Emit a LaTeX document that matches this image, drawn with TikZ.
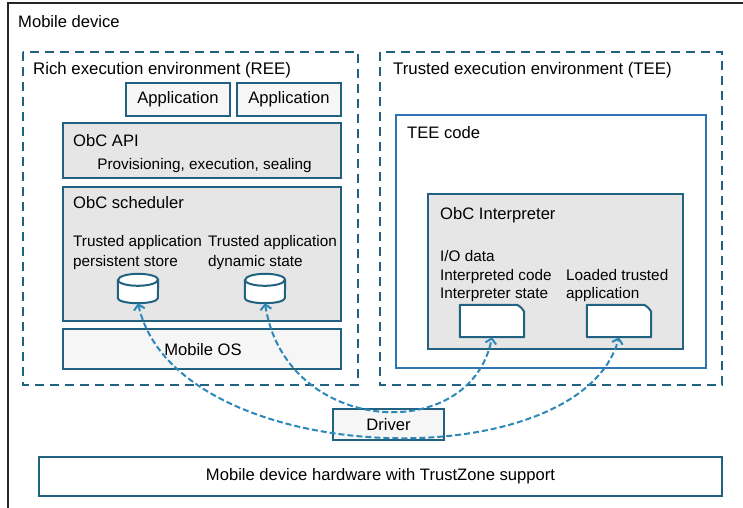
\documentclass[tikz,border=0pt]{standalone}
\usepackage{fontspec}
\setmainfont{Liberation Sans}
\usetikzlibrary{arrows.meta}
\definecolor{bordc}{RGB}{33,98,128}
\definecolor{teeb}{RGB}{46,117,182}
\definecolor{connc}{RGB}{45,135,185}
\definecolor{grayfill}{RGB}{230,230,230}
\definecolor{lightfill}{RGB}{246,246,246}
\begin{document}
\begin{tikzpicture}[x=1pt,y=-1pt,
  box/.style={draw=bordc, line width=2pt, inner sep=0pt},
  envbox/.style={draw=bordc, line width=2pt, dash pattern=on 9pt off 6pt},
  big/.style={font=\fontsize{16.6}{19}\selectfont, inner sep=0pt},
  envlab/.style={font=\fontsize{16.8}{19}\selectfont, inner sep=0pt},
  small/.style={font=\fontsize{15.3}{18.5}\selectfont, inner sep=0pt},
  hold/.style={inner sep=0pt, draw=none},
  shapeline/.style={draw=bordc, line width=2pt, fill=white, line join=round},
  conn/.style={draw=connc, line width=2pt, dash pattern=on 6pt off 3pt,
    {Straight Barb[length=5pt,width=11pt,line width=2pt]}-{Straight Barb[length=5pt,width=11pt,line width=2pt]}}
]
\useasboundingbox (0,0) rectangle (743,507);
\clip (0,0) rectangle (743,507);
\fill[white] (0,0) rectangle (743,507);
% outer frame
\draw[line width=2.2pt, draw=black!85] (8,3) rectangle (770,540);
\node[big, anchor=base west] (lmd) at (18,27) {Mobile device};

% environments
\draw[envbox] (23,52) rectangle (358,385);
\draw[envbox] (380,52) rectangle (722,385);
\node[envlab, anchor=base west] (lree) at (33,74) {Rich execution environment (REE)};
\node[envlab, anchor=base west] (ltee) at (393,74) {Trusted execution environment (TEE)};

% REE content
\node[box, fill=lightfill, minimum width=104, minimum height=33, big] (app1) at (178,99.5) {Application};
\node[box, fill=lightfill, minimum width=104, minimum height=33, big] (app2) at (289,99.5) {Application};
\node[box, fill=grayfill, minimum width=278, minimum height=55] (api) at (202,150.5) {};
\node[big, anchor=base west] (lapi) at (73,146) {ObC API};
\node[small, anchor=base] (lprov) at (204.5,169) {Provisioning, execution, sealing};
\node[box, fill=grayfill, minimum width=278, minimum height=134] (sched) at (202,254) {};
\node[big, anchor=base west] (lsched) at (73,208) {ObC scheduler};
\node[small, anchor=base west] (t1a) at (73,246) {Trusted application};
\node[small, anchor=base west] (t1b) at (73,266) {persistent store};
\node[small, anchor=base west] (t2a) at (208,246) {Trusted application};
\node[small, anchor=base west] (t2b) at (208,266) {dynamic state};
\node[box, fill=lightfill, minimum width=278, minimum height=40] (os) at (202,349) {};
\node[big] (los) at (203,350) {Mobile OS};

% cylinders
\node[hold, minimum width=40, minimum height=29] (cyl1) at (138,288.5) {};
\node[hold, minimum width=40, minimum height=29] (cyl2) at (265,288.5) {};
\foreach \c in {cyl1,cyl2}{
  \path[shapeline] ([yshift=-6pt]\c.north west) -- ([yshift=5pt]\c.south west)
    arc[start angle=180, end angle=360, x radius=20pt, y radius=5pt]
    -- ([yshift=-6pt]\c.north east)
    arc[start angle=0, end angle=180, x radius=20pt, y radius=6pt] -- cycle;
  \draw[draw=bordc, line width=2pt] ([yshift=-6pt]\c.north west)
    arc[start angle=180, end angle=360, x radius=20pt, y radius=6pt];
}

% TEE content
\node[draw=teeb, line width=2pt, fill=white, minimum width=310, minimum height=253] (teecode) at (551,241.5) {};
\node[big, anchor=base west] (lteecode) at (407,138) {TEE code};
\node[box, fill=grayfill, minimum width=255, minimum height=155] (interp) at (555.5,271.5) {};
\node[big, anchor=base west] (linterp) at (440,219) {ObC Interpreter};
\node[small, anchor=base west] (io1) at (440,261) {I/O data};
\node[small, anchor=base west] (io2) at (440,280) {Interpreted code};
\node[small, anchor=base west] (io3) at (440,298) {Interpreter state};
\node[small, anchor=base west] (ld1) at (566,280) {Loaded trusted};
\node[small, anchor=base west] (ld2) at (566,298) {application};

% documents
\node[hold, minimum width=64, minimum height=32] (doc1) at (492,321) {};
\node[hold, minimum width=64, minimum height=32] (doc2) at (619,321) {};
\foreach \d in {doc1,doc2}{
  \path[shapeline] (\d.south west) -- (\d.north west) -- ([xshift=-7pt]\d.north east)
    to[bend left=15] ([yshift=-7pt]\d.north east) -- (\d.south east) -- cycle;
}

% driver and hardware
\node[box, fill=lightfill, minimum width=111, minimum height=31, big] (driver) at (388.5,424.5) {Driver};
\node[box, fill=white, minimum width=683, minimum height=39, big] (hw) at (380.5,476.5) {Mobile device hardware with TrustZone support};

% connectors
\draw[conn] (cyl1.south) .. controls (175,470) and (580,482) .. (doc2.south);
\draw[conn] (cyl2.south) .. controls (285,435) and (470,447) .. (doc1.south);
\end{tikzpicture}
\end{document}
